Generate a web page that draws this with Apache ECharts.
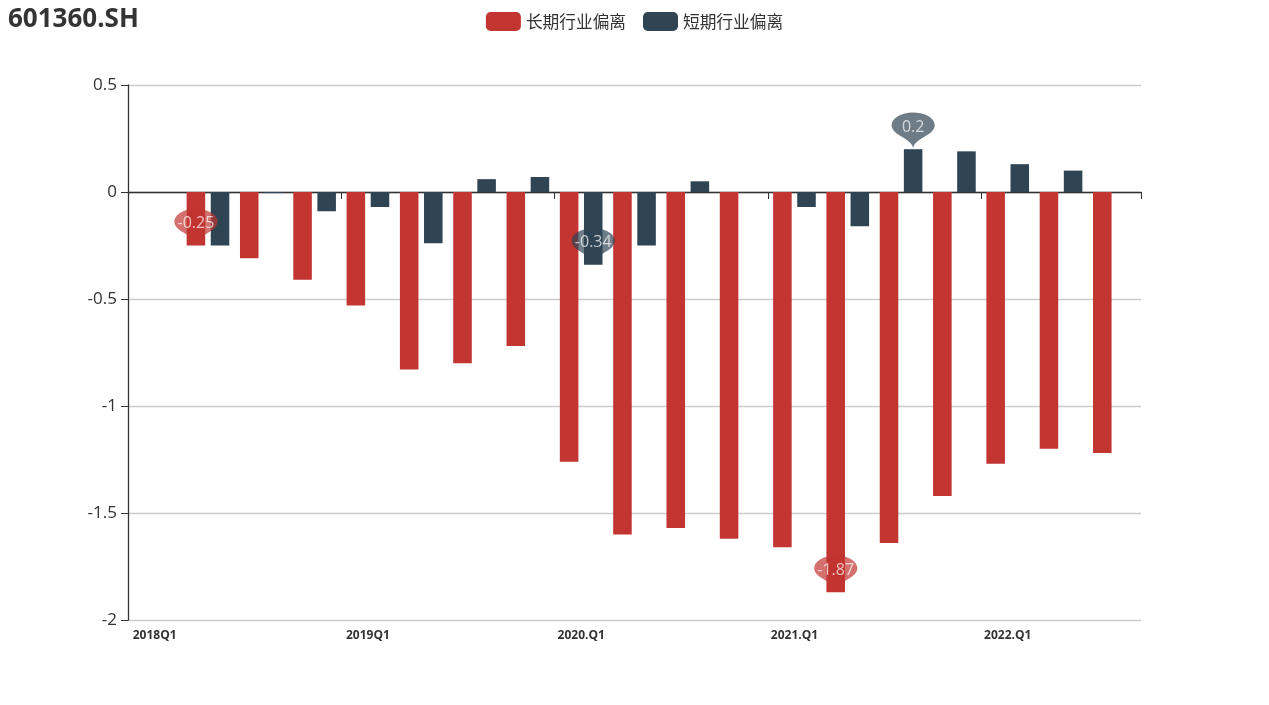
<!DOCTYPE html>
<html>
<head>
<meta charset="utf-8">
<script src="https://cdn.jsdelivr.net/npm/echarts@6/dist/echarts.min.js"></script>
<style>
html,body{margin:0;padding:0;background:#fff;}
#main{width:1269px;height:705px;}
</style>
</head>
<body>
<div id="main"></div>
<script>
var categories = ["2018Q1","2018Q2","2018Q3","2018Q4","2019Q1","2019Q2","2019Q3","2019Q4","2020.Q1","2020.Q2","2020.Q3","2020.Q4","2021.Q1","2021.Q2","2021.Q3","2021.Q4","2022.Q1","2022.Q2","2022.Q3"];
var longDev = [null,-0.25,-0.31,-0.41,-0.53,-0.83,-0.80,-0.72,-1.26,-1.60,-1.57,-1.62,-1.66,-1.87,-1.64,-1.42,-1.27,-1.20,-1.22];
var shortDev = [null,-0.25,-0.005,-0.09,-0.07,-0.24,0.06,0.07,-0.34,-0.25,0.05,0,-0.07,-0.16,0.2,0.19,0.13,0.10,0];
var yTicks = {min:-2, max:0.5, interval:0.5};
var seriesNames = ["长期行业偏离","短期行业偏离"];
var colors = ["#c23531","#2f4554"];

var latin = "'Open Sans', 'Noto Sans CJK SC', sans-serif";
var chart = echarts.init(document.getElementById('main'));
function mp(){
  return {
    symbol:'pin',
    symbolSize:[72,42],
    itemStyle:{opacity:0.7},
    label:{color:'#fff',fontSize:16,fontFamily:latin},
    data:[{type:'max',name:'最大值'},{type:'min',name:'最小值'}]
  };
}
chart.setOption({
  animation:false,
  color:colors,
  title:{text:'601360.SH',left:3,top:2,textStyle:{fontSize:26,fontWeight:'bold',color:'#333',fontFamily:latin}},
  legend:{top:7,left:'center',itemWidth:35,itemHeight:19,itemGap:17,
    textStyle:{fontSize:16.7,color:'#333',fontFamily:"'Noto Sans CJK SC', sans-serif"},
    data:seriesNames},
  grid:{left:128,right:128,top:85,bottom:85},
  xAxis:[{
    type:'category',data:categories,position:'top',
    axisLine:{onZero:true,lineStyle:{color:'#333',width:1.3}},
    axisTick:{show:true,inside:true,length:7,interval:3,lineStyle:{color:'#333'}},
    axisLabel:{show:false,interval:3},
    splitLine:{show:false}
  },{
    type:'category',data:categories,position:'bottom',
    axisLine:{show:false,onZero:false},
    axisTick:{show:false},
    axisLabel:{interval:3,fontSize:12,fontWeight:'bold',color:'#333',margin:10,fontFamily:latin},
    splitLine:{show:false}
  }],
  yAxis:{
    type:'value',min:yTicks.min,max:yTicks.max,interval:yTicks.interval,
    axisLine:{show:true,lineStyle:{color:'#333',width:1.3}},
    axisTick:{show:true,length:7,lineStyle:{color:'#333'}},
    axisLabel:{fontSize:17,color:'#333',margin:11,fontFamily:latin},
    splitLine:{show:true,lineStyle:{color:'#ccc',width:1.3}}
  },
  series:[
    {name:seriesNames[0],type:'bar',xAxisIndex:0,barGap:'30%',barCategoryGap:'20%',data:longDev,markPoint:mp()},
    {name:seriesNames[1],type:'bar',xAxisIndex:0,barGap:'30%',barCategoryGap:'20%',data:shortDev,markPoint:mp()}
  ]
});
</script>
</body>
</html>
